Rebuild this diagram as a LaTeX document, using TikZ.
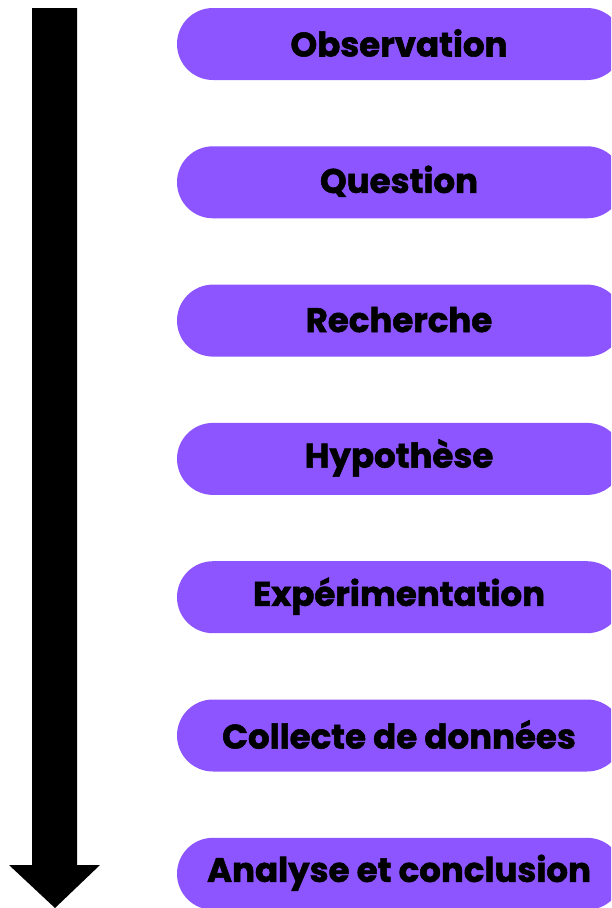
\documentclass[tikz,border=0pt]{standalone}
\usepackage{fontspec}
\setmainfont{Poppins}[BoldFeatures={FakeBold=1.6}]
\definecolor{pill}{HTML}{8C55FF}
\begin{document}
\begin{tikzpicture}[x=1pt,y=-1pt,
  stepbox/.style={fill=pill, rounded corners=36pt, minimum width=446pt, minimum height=72pt, inner sep=0pt},
  steplabel/.style={font=\bfseries\fontsize{34}{34}\selectfont, text=black, anchor=center}]
\useasboundingbox (0,0) rectangle (611,908);
\clip (0,0) rectangle (611,908);
% arrow
\fill[black] (32,8) -- (77,8) -- (77,865) -- (100,865) -- (55,908) -- (9,865) -- (32,865) -- cycle;
\foreach \t [count=\i from 0] in {Observation,Question,Recherche,Hypothèse,Expérimentation,Collecte de données,Analyse et conclusion} {
  \node[stepbox] (b\i) at (400,{44+138.3*\i}) {};
  \node[steplabel] (t\i) at (399,{43+138.3*\i}) {\t};
}
\end{tikzpicture}
\end{document}
